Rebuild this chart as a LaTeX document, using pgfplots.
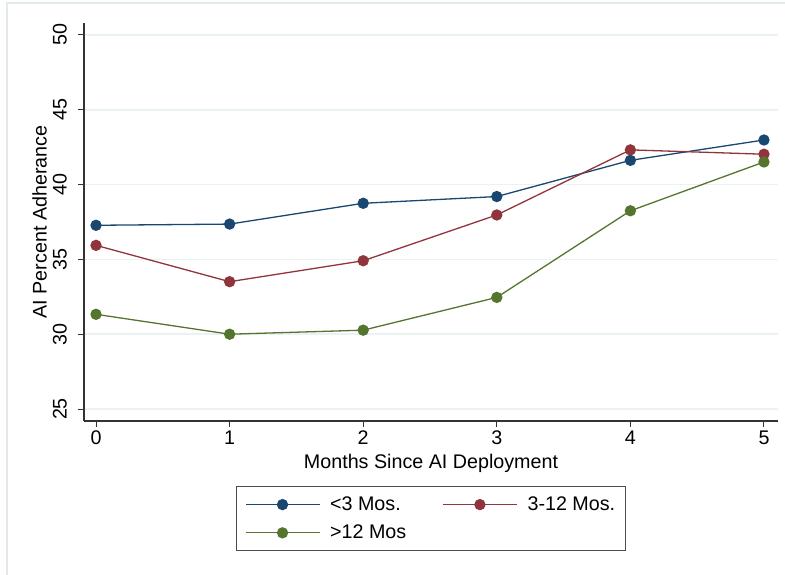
\documentclass[border=0pt]{standalone}
\usepackage{pgfplots}
\pgfplotsset{compat=1.18}
\usepackage{fontspec}
\setmainfont{Liberation Sans}
\definecolor{snavy}{RGB}{26,71,111}
\definecolor{smaroon}{RGB}{144,53,59}
\definecolor{sgreen}{RGB}{85,117,47}
\definecolor{sgrid}{RGB}{234,242,243}
\definecolor{sframe}{RGB}{226,234,238}
\newcommand{\sfont}{\fontsize{19.7bp}{23bp}\selectfont}
\begin{document}
\begin{tikzpicture}[x=1bp,y=1bp]
\useasboundingbox (0,0) rectangle (785,575);
\draw[color=sframe, line width=1.2bp] (7,0) -- (7,572) -- (785,572);
\begin{axis}[
  at={(84bp,154bp)}, anchor=south west,
  scale only axis, width=694bp, height=398bp,
  xmin=-0.09, xmax=5.105, ymin=24.2, ymax=50.8,
  axis lines=left,
  axis line style={-, line width=1.1bp, draw=black!80},
  xtick={0,1,2,3,4,5}, ytick={25,30,35,40,45,50},
  tick style={line width=1bp, draw=black!80},
  tick align=outside, major tick length=6bp,
  ymajorgrids, major grid style={line width=1.6bp, draw=sgrid},
  /pgf/number format/assume math mode=true,
  tick label style={font=\sfont, text=black},
  y tick label style={rotate=90, anchor=south, inner sep=2bp},
  yticklabel shift=9bp,
  x tick label style={anchor=north, inner sep=2bp},
  xticklabel shift=2bp,
  label style={font=\sfont},
  xlabel={Months Since AI Deployment},
  xlabel style={at={(axis description cs:0.5,-0.1206)}, anchor=base},
  ylabel={AI Percent Adherance},
  ylabel style={at={(axis description cs:-0.0641,0.5)}, anchor=center, rotate=0},
  every axis plot/.append style={line width=1.3bp, mark=*, mark size=5bp},
  legend style={at={(axis description cs:0.5,-0.1633)}, anchor=north,
    legend columns=2, draw=black!70, line width=1bp, font=\sfont,
    inner xsep=8bp, inner ysep=8.5bp, row sep=9bp,
    /tikz/every odd column/.append style={column sep=8bp},
    /tikz/every even column/.append style={column sep=34bp}},
  legend cell align=left,
  legend image code/.code={\draw[mark repeat=2, mark phase=2] plot coordinates {(0bp,0bp) (37bp,0bp) (74bp,0bp)};},
  clip=false,
]
\addplot[color=snavy, mark options={fill=snavy, draw=snavy}] coordinates {
  (0,37.28) (1,37.36) (2,38.75) (3,39.20) (4,41.62) (5,42.98)};
\addlegendentry{<3 Mos.}
\addplot[color=smaroon, mark options={fill=smaroon, draw=smaroon}] coordinates {
  (0,35.94) (1,33.51) (2,34.91) (3,37.97) (4,42.32) (5,42.03)};
\addlegendentry{3-12 Mos.}
\addplot[color=sgreen, mark options={fill=sgreen, draw=sgreen}] coordinates {
  (0,31.33) (1,30.00) (2,30.27) (3,32.46) (4,38.25) (5,41.51)};
\addlegendentry{>12 Mos}
\end{axis}
\end{tikzpicture}
\end{document}
